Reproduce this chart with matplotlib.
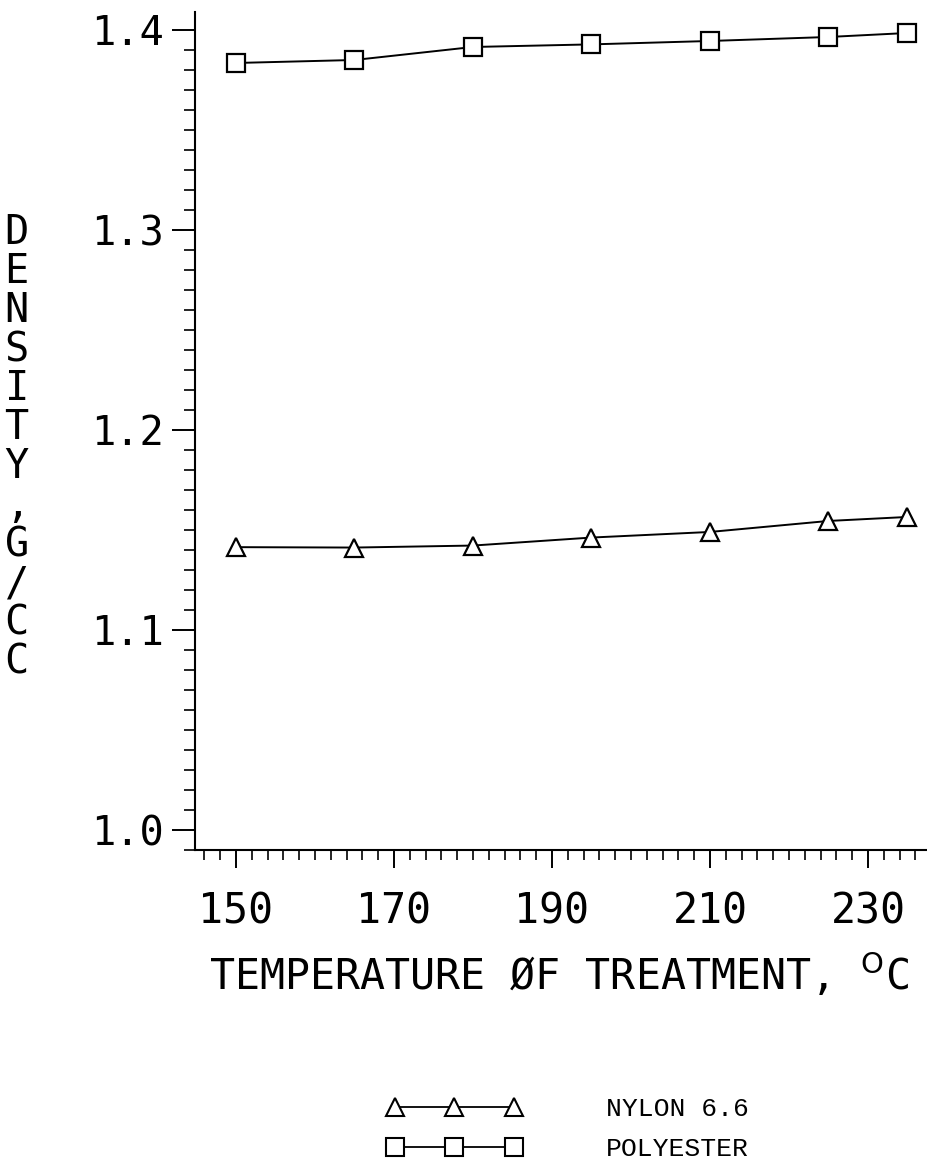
import numpy as np
import matplotlib
matplotlib.use("Agg")
import matplotlib.pyplot as plt
from matplotlib.ticker import MultipleLocator, FixedLocator
from matplotlib.lines import Line2D

# temperature of treatment, deg C
temp = [150, 165, 180, 195, 210, 225, 235]
# density, g/cc
nylon = [1.1414, 1.1412, 1.1422, 1.1462, 1.1490, 1.1545, 1.1565]
polyester = [1.3835, 1.3850, 1.3915, 1.3928, 1.3945, 1.3965, 1.3985]

xticks = [150, 170, 190, 210, 230]
yticks = [1.0, 1.1, 1.2, 1.3, 1.4]
ylabels = ["1.0", "1.1", "1.2", "1.3", "1.4"]

mono = "DejaVu Sans Mono"

fig = plt.figure(figsize=(9.28, 11.75), dpi=100)
ax = fig.add_axes([0.210, 0.2766, 0.790, 0.7132])

ax.plot(temp, nylon, color="black", lw=1.4, marker="^", ms=13.5,
        mfc="white", mec="black", mew=1.6)
ax.plot(temp, polyester, color="black", lw=1.4, marker="s", ms=13.5,
        mfc="white", mec="black", mew=1.6)

ax.set_xlim(144.8, 237.6)
ax.set_ylim(0.98997, 1.409)

for s in ["top", "right"]:
    ax.spines[s].set_visible(False)
for s in ["left", "bottom"]:
    ax.spines[s].set_linewidth(1.5)

ax.xaxis.set_major_locator(FixedLocator(xticks))
ax.xaxis.set_minor_locator(MultipleLocator(2))
ax.yaxis.set_major_locator(FixedLocator(yticks))
ax.yaxis.set_minor_locator(MultipleLocator(0.01))
ax.set_yticklabels(ylabels)

ax.tick_params(axis="x", which="major", direction="out", length=13, width=1.4, pad=16)
ax.tick_params(axis="x", which="minor", direction="out", length=7, width=1.2)
ax.tick_params(axis="y", which="major", direction="out", length=16.5, width=1.4, pad=6)
ax.tick_params(axis="y", which="minor", direction="out", length=8, width=1.2)

for lab in ax.get_xticklabels():
    lab.set_fontfamily(mono)
    lab.set_fontsize(30)
for lab in ax.get_yticklabels():
    lab.set_fontfamily(mono)
    lab.set_fontsize(29)

# vertical stacked y label
fig.text(0.018, 0.619, "\n".join("DENSITY,G/CC"), family=mono, fontsize=29,
         ha="center", va="center", linespacing=0.97)

fig.text(0.602, 0.170, "TEMPERATURE ØF TREATMENT, $^{\\mathsf{O}}$C", family=mono,
         fontsize=30, ha="center", va="center")

# legend
handles = [
    Line2D([], [], color="black", lw=1.3, marker="^", ms=13, mfc="white", mec="black", mew=1.5),
    Line2D([], [], color="black", lw=1.3, marker="s", ms=13, mfc="white", mec="black", mew=1.5),
]
fig.legend(handles, ["NYLON 6.6", "POLYESTER"], loc="center", bbox_to_anchor=(0.612, 0.039),
           frameon=False, numpoints=3, handlelength=5.1, handletextpad=3.2,
           labelspacing=0.6, prop={"family": "Liberation Mono", "size": 19})

fig.savefig("out.png", dpi=100)
